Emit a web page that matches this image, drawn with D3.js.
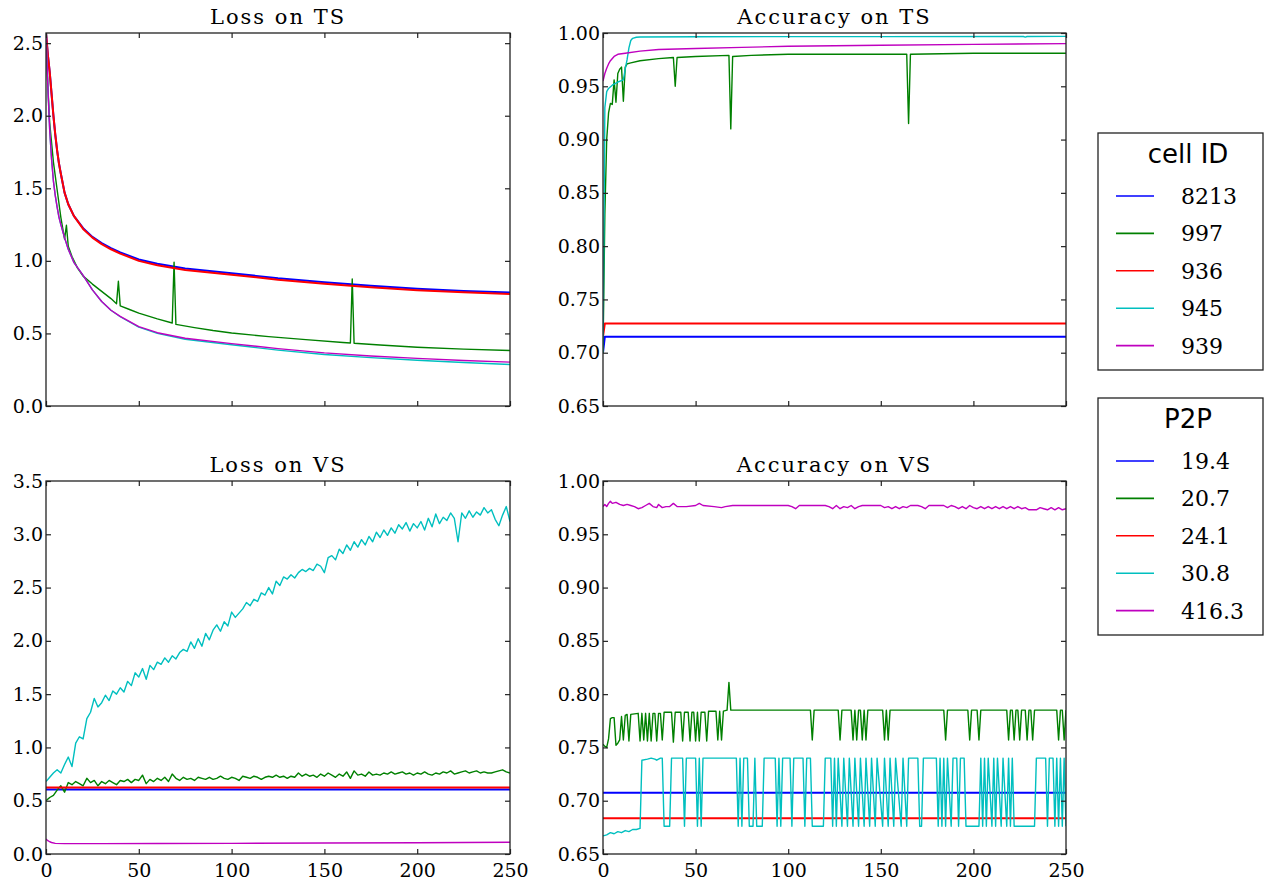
<!DOCTYPE html>
<html>
<head>
<meta charset="utf-8">
<script src="https://cdn.jsdelivr.net/npm/d3@7"></script>
<style>
  html, body { margin: 0; padding: 0; background: #fff; }
  svg { display: block; }
  .tick text { font-family: "DejaVu Serif", serif; font-size: 19px; fill: #000; }
  .title { font-family: "DejaVu Serif", serif; font-size: 21px; letter-spacing: 2px; }
</style>
</head>
<body>
<div id="chart"></div>
<script>
// ---- data, [epoch, value] pairs ----
var seriesNames = ["8213", "997", "936", "945", "939"];
var p2pNames = ["19.4", "20.7", "24.1", "30.8", "416.3"];
var seriesColors = ["#0000ff", "#008000", "#ff0000", "#00bfbf", "#bf00bf"];
var xTicks = [0, 50, 100, 150, 200, 250];

// Loss on TS
var lossTs8213 = [[0,2.57],[1,2.42],[2,2.3],[3,2.15],[4,2.0],[5,1.87],[6,1.76],[7,1.67],[8,1.6],[10,1.47],[12,1.39],[15,1.31],[20,1.225],[25,1.165],[30,1.122],[35,1.088],[40,1.058],[50,1.01],[60,0.98],[75,0.948],[100,0.915],[125,0.88],[150,0.853],[175,0.828],[200,0.808],[225,0.793],[250,0.782]];
var lossTs997 = [[0,2.57],[1,2.2],[2,1.95],[4,1.68],[6,1.49],[8,1.3],[10,1.15],[11,1.245],[12,1.1],[14,1.03],[17,0.95],[20,0.895],[25,0.84],[30,0.79],[35,0.74],[38,0.705],[39,0.86],[40,0.69],[45,0.665],[50,0.64],[60,0.6],[68,0.572],[69,0.99],[70,0.562],[80,0.54],[90,0.52],[100,0.503],[120,0.478],[140,0.457],[160,0.438],[164,0.434],[165,0.875],[166,0.432],[180,0.42],[200,0.405],[225,0.392],[250,0.382]];
var lossTs936 = [[0,2.57],[1,2.42],[2,2.3],[3,2.15],[4,2.0],[5,1.87],[6,1.76],[7,1.67],[8,1.6],[10,1.47],[12,1.39],[15,1.31],[20,1.22],[25,1.16],[30,1.115],[35,1.08],[40,1.05],[50,1.0],[60,0.97],[75,0.937],[100,0.905],[125,0.87],[150,0.843],[175,0.818],[200,0.798],[225,0.783],[250,0.772]];
var lossTs945 = [[0,2.57],[1,2.2],[2,1.9],[3,1.7],[4,1.55],[5,1.45],[6,1.37],[7,1.3],[8,1.25],[10,1.16],[12,1.08],[15,0.99],[20,0.9],[25,0.8],[30,0.72],[35,0.66],[40,0.615],[50,0.543],[60,0.5],[75,0.46],[100,0.422],[125,0.385],[150,0.355],[175,0.333],[200,0.315],[225,0.3],[250,0.286]];
var lossTs939 = [[0,2.57],[1,2.2],[2,1.9],[3,1.7],[4,1.55],[5,1.45],[6,1.37],[7,1.3],[8,1.25],[10,1.16],[12,1.08],[15,0.99],[20,0.9],[25,0.8],[30,0.72],[35,0.66],[40,0.617],[50,0.547],[60,0.505],[75,0.467],[100,0.43],[125,0.395],[150,0.366],[175,0.345],[200,0.328],[225,0.314],[250,0.302]];

// Accuracy on TS
var accTs8213 = [[0,0.70],[1,0.715],[250,0.715]];
var accTs997 = [[0,0.70],[1,0.83],[2,0.9],[3,0.925],[4,0.934],[5,0.933],[6,0.956],[7,0.935],[8,0.962],[9,0.966],[10,0.968],[11,0.936],[12,0.968],[13,0.971],[15,0.972],[20,0.974],[30,0.976],[38,0.977],[39,0.95],[40,0.977],[50,0.978],[68,0.979],[69,0.91],[70,0.978],[80,0.979],[100,0.98],[130,0.98],[164,0.98],[165,0.915],[166,0.98],[200,0.981],[250,0.981]];
var accTs936 = [[0,0.715],[1,0.7275],[250,0.7275]];
var accTs945 = [[0,0.70],[1,0.93],[2,0.945],[3,0.948],[5,0.951],[8,0.954],[11,0.956],[12,0.966],[13,0.975],[14,0.986],[15,0.993],[16,0.995],[18,0.996],[20,0.9963],[50,0.9965],[100,0.9966],[150,0.9966],[227,0.9967],[228,0.9962],[229,0.9967],[250,0.9968]];
var accTs939 = [[0,0.955],[1,0.962],[2,0.967],[3,0.971],[4,0.974],[6,0.978],[8,0.98],[12,0.981],[20,0.983],[30,0.9845],[50,0.9855],[75,0.9865],[100,0.9875],[150,0.9885],[200,0.9893],[250,0.99]];

// Loss on VS
var lossVs8213 = [[0,0.605],[250,0.605]];
var lossVs997 = [[0,0.5],[2,0.53],[4,0.55],[6,0.6],[8,0.64],[10,0.58],[12,0.67],[14,0.65],[16,0.68],[18,0.66],[20,0.64],[22,0.71],[24,0.67],[26,0.69],[28,0.64],[30,0.68],[32,0.66],[34,0.69],[36,0.67],[38,0.65],[40,0.69],[42,0.68],[44,0.7],[46,0.67],[48,0.7],[50,0.69],[52,0.74],[54,0.66],[56,0.7],[58,0.68],[60,0.71],[62,0.69],[64,0.72],[66,0.68],[68,0.75],[70,0.71],[72,0.69],[74,0.72],[76,0.7],[78,0.71],[80,0.69],[82,0.72],[84,0.71],[86,0.7],[88,0.72],[90,0.7],[92,0.71],[94,0.73],[96,0.71],[98,0.7],[100,0.72],[102,0.71],[104,0.69],[106,0.73],[108,0.72],[110,0.71],[112,0.73],[114,0.72],[116,0.7],[118,0.72],[120,0.73],[122,0.72],[124,0.74],[126,0.72],[128,0.73],[130,0.71],[132,0.73],[134,0.72],[136,0.76],[138,0.73],[140,0.75],[142,0.73],[144,0.74],[146,0.72],[148,0.75],[150,0.73],[152,0.76],[154,0.74],[156,0.72],[158,0.75],[160,0.73],[162,0.77],[164,0.71],[166,0.78],[168,0.74],[170,0.75],[172,0.73],[174,0.77],[176,0.74],[178,0.75],[180,0.74],[182,0.76],[184,0.75],[186,0.77],[188,0.75],[190,0.76],[192,0.77],[194,0.75],[196,0.76],[198,0.74],[200,0.76],[202,0.75],[204,0.77],[206,0.75],[208,0.74],[210,0.76],[212,0.75],[214,0.77],[216,0.76],[218,0.78],[220,0.75],[222,0.76],[224,0.77],[226,0.78],[228,0.76],[230,0.77],[232,0.78],[234,0.76],[236,0.77],[238,0.76],[240,0.76],[242,0.77],[244,0.78],[246,0.79],[248,0.77],[250,0.76]];
var lossVs936 = [[0,0.625],[250,0.625]];
var lossVs945 = [[0,0.68],[2,0.72],[4,0.76],[6,0.79],[8,0.76],[10,0.84],[12,0.91],[14,0.82],[16,1.04],[18,1.1],[20,1.08],[22,1.27],[24,1.33],[26,1.46],[28,1.38],[30,1.42],[32,1.49],[34,1.44],[36,1.53],[38,1.5],[40,1.56],[42,1.52],[44,1.62],[46,1.58],[48,1.7],[50,1.66],[52,1.74],[54,1.64],[56,1.77],[58,1.73],[60,1.8],[62,1.78],[64,1.84],[66,1.8],[68,1.86],[70,1.83],[72,1.89],[74,1.92],[76,1.9],[78,1.99],[80,1.93],[82,2.02],[84,1.95],[86,2.07],[88,2.01],[90,2.1],[92,2.15],[94,2.09],[96,2.18],[98,2.14],[100,2.27],[102,2.22],[104,2.26],[106,2.3],[108,2.36],[110,2.33],[112,2.39],[114,2.37],[116,2.45],[118,2.43],[120,2.5],[122,2.44],[124,2.56],[126,2.52],[128,2.6],[130,2.58],[132,2.62],[134,2.59],[136,2.64],[138,2.67],[140,2.65],[142,2.68],[144,2.66],[146,2.72],[148,2.7],[150,2.64],[152,2.78],[154,2.8],[156,2.76],[158,2.86],[160,2.82],[162,2.9],[164,2.85],[166,2.93],[168,2.88],[170,2.95],[172,2.9],[174,2.98],[176,2.93],[178,3.02],[180,2.97],[182,3.04],[184,2.99],[186,3.06],[188,3.01],[190,3.09],[192,3.05],[194,3.11],[196,3.03],[198,3.1],[200,3.06],[202,3.12],[204,3.04],[206,3.15],[208,3.07],[210,3.19],[212,3.1],[214,3.16],[216,3.13],[218,3.2],[220,3.15],[222,2.93],[224,3.2],[226,3.15],[228,3.22],[230,3.16],[232,3.21],[234,3.18],[236,3.25],[238,3.2],[240,3.23],[242,3.14],[244,3.08],[246,3.18],[248,3.26],[250,3.12]];
var lossVs939 = [[0,0.14],[1,0.125],[2,0.115],[3,0.108],[5,0.1],[10,0.097],[30,0.097],[60,0.098],[100,0.1],[150,0.103],[200,0.106],[250,0.11]];

// Accuracy on VS
var accVs8213 = [[0,0.7075],[250,0.7075]];
var accVs997 = [[0,0.753],[1,0.751],[2,0.75],[3,0.758],[4,0.777],[5,0.778],[6,0.778],[7,0.752],[8,0.754],[9,0.757],[10,0.779],[11,0.757],[12,0.78],[13,0.781],[14,0.756],[15,0.781],[19,0.782],[20,0.756],[21,0.782],[22,0.757],[23,0.782],[24,0.756],[25,0.782],[26,0.756],[27,0.782],[28,0.782],[29,0.756],[30,0.782],[31,0.782],[32,0.757],[33,0.783],[37,0.783],[38,0.755],[39,0.783],[42,0.783],[43,0.756],[44,0.783],[46,0.783],[47,0.756],[48,0.783],[49,0.783],[50,0.756],[51,0.783],[52,0.756],[53,0.783],[55,0.783],[56,0.756],[57,0.784],[61,0.784],[62,0.757],[63,0.784],[64,0.757],[65,0.784],[67,0.785],[68,0.811],[69,0.785],[112,0.785],[113,0.757],[114,0.785],[127,0.785],[128,0.757],[129,0.785],[134,0.785],[135,0.757],[136,0.785],[137,0.757],[138,0.785],[139,0.785],[140,0.757],[141,0.785],[142,0.757],[143,0.785],[151,0.785],[152,0.757],[153,0.785],[154,0.757],[155,0.785],[184,0.785],[185,0.757],[186,0.785],[197,0.785],[198,0.757],[199,0.785],[202,0.785],[203,0.757],[204,0.785],[218,0.785],[219,0.757],[220,0.785],[221,0.785],[222,0.757],[223,0.785],[224,0.785],[225,0.757],[226,0.785],[228,0.785],[229,0.757],[230,0.785],[231,0.785],[232,0.757],[233,0.785],[245,0.785],[246,0.757],[247,0.785],[248,0.785],[249,0.757],[250,0.785]];
var accVs936 = [[0,0.6835],[250,0.6835]];
var accVs945 = [[0,0.667],[2,0.668],[4,0.67],[6,0.669],[8,0.671],[10,0.67],[12,0.672],[14,0.671],[16,0.673],[18,0.673],[20,0.674],[21,0.738],[24,0.739],[26,0.74],[28,0.739],[29,0.738],[31,0.74],[32,0.74],[33,0.676],[36,0.676],[37,0.74],[43,0.74],[44,0.676],[45,0.74],[50,0.74],[51,0.676],[52,0.74],[53,0.676],[54,0.74],[72,0.74],[73,0.676],[74,0.74],[75,0.676],[76,0.74],[78,0.74],[79,0.676],[81,0.676],[82,0.74],[83,0.676],[86,0.676],[87,0.74],[93,0.74],[94,0.676],[95,0.74],[96,0.676],[97,0.74],[101,0.74],[102,0.676],[103,0.74],[108,0.74],[109,0.676],[110,0.74],[112,0.74],[113,0.676],[119,0.676],[120,0.74],[123,0.74],[124,0.676],[125,0.74],[126,0.676],[127,0.74],[129,0.676],[130,0.74],[132,0.676],[133,0.74],[135,0.676],[136,0.74],[138,0.676],[139,0.74],[141,0.676],[142,0.74],[144,0.676],[145,0.74],[147,0.676],[148,0.74],[151,0.676],[152,0.74],[154,0.676],[155,0.74],[157,0.676],[158,0.74],[161,0.676],[162,0.74],[164,0.676],[165,0.74],[170,0.74],[171,0.676],[172,0.676],[173,0.74],[180,0.74],[181,0.676],[182,0.74],[183,0.676],[184,0.74],[185,0.676],[186,0.74],[188,0.676],[189,0.74],[191,0.74],[192,0.676],[193,0.74],[195,0.74],[196,0.676],[203,0.676],[204,0.74],[205,0.676],[206,0.74],[207,0.676],[208,0.74],[210,0.676],[211,0.74],[212,0.676],[213,0.74],[215,0.676],[216,0.74],[218,0.676],[219,0.74],[220,0.676],[221,0.74],[222,0.676],[233,0.676],[234,0.74],[239,0.74],[240,0.676],[241,0.74],[243,0.74],[244,0.676],[245,0.74],[246,0.676],[247,0.74],[248,0.676],[249,0.74],[250,0.676]];
var accVs939 = [[0,0.976],[1,0.978],[2,0.976],[3,0.979],[4,0.981],[5,0.979],[7,0.98],[9,0.978],[11,0.977],[13,0.978],[15,0.977],[17,0.976],[19,0.974],[21,0.975],[23,0.977],[25,0.979],[27,0.976],[29,0.975],[30,0.978],[32,0.975],[34,0.976],[36,0.976],[38,0.979],[40,0.976],[45,0.976],[50,0.977],[52,0.979],[54,0.977],[60,0.976],[64,0.975],[66,0.976],[70,0.977],[80,0.977],[90,0.977],[100,0.977],[102,0.976],[104,0.974],[106,0.977],[115,0.977],[120,0.977],[122,0.976],[124,0.974],[126,0.977],[128,0.974],[130,0.976],[132,0.975],[134,0.977],[136,0.974],[138,0.976],[140,0.977],[150,0.977],[152,0.975],[154,0.976],[156,0.974],[158,0.976],[160,0.974],[162,0.976],[164,0.975],[166,0.977],[170,0.977],[172,0.976],[174,0.974],[176,0.977],[180,0.977],[184,0.977],[186,0.975],[188,0.977],[190,0.976],[192,0.974],[194,0.976],[196,0.974],[198,0.977],[200,0.975],[202,0.974],[204,0.976],[206,0.974],[208,0.976],[210,0.974],[212,0.976],[214,0.974],[216,0.976],[218,0.974],[220,0.976],[222,0.974],[224,0.976],[226,0.974],[228,0.975],[230,0.973],[234,0.973],[236,0.975],[238,0.974],[240,0.973],[242,0.975],[244,0.973],[246,0.975],[248,0.973],[250,0.974]];

// ---- layout ----
var W = 1264, H = 884;
var panels = [
  { title: "Loss on TS", x0: 46, x1: 510, y0: 33, y1: 406, yDomain: [0, 2.57], yTicks: [0, 0.5, 1, 1.5, 2, 2.5], fmt: ".1f", xLabels: false,
    lines: [lossTs8213, lossTs997, lossTs936, lossTs945, lossTs939] },
  { title: "Accuracy on TS", x0: 603, x1: 1066, y0: 33, y1: 406, yDomain: [0.65, 1], yTicks: [0.65, 0.7, 0.75, 0.8, 0.85, 0.9, 0.95, 1], fmt: ".2f", xLabels: false,
    lines: [accTs8213, accTs997, accTs936, accTs945, accTs939] },
  { title: "Loss on VS", x0: 46, x1: 510, y0: 481, y1: 854, yDomain: [0, 3.5], yTicks: [0, 0.5, 1, 1.5, 2, 2.5, 3, 3.5], fmt: ".1f", xLabels: true,
    lines: [lossVs8213, lossVs997, lossVs936, lossVs945, lossVs939] },
  { title: "Accuracy on VS", x0: 603, x1: 1066, y0: 481, y1: 854, yDomain: [0.65, 1], yTicks: [0.65, 0.7, 0.75, 0.8, 0.85, 0.9, 0.95, 1], fmt: ".2f", xLabels: true,
    lines: [accVs8213, accVs997, accVs936, accVs945, accVs939] }
];
// draw order as in the original: blue, green, red, cyan, magenta
var lineWidths = [2, 1.4, 2, 1.4, 1.4];

var svg = d3.select("#chart").append("svg").attr("width", W).attr("height", H);

panels.forEach(function (p, pi) {
  var x = d3.scaleLinear().domain([0, 250]).range([p.x0, p.x1]);
  var y = d3.scaleLinear().domain(p.yDomain).range([p.y1, p.y0]);
  var g = svg.append("g");

  var clipId = "clip" + pi;
  svg.append("clipPath").attr("id", clipId)
    .append("rect").attr("x", p.x0).attr("y", p.y0).attr("width", p.x1 - p.x0).attr("height", p.y1 - p.y0);

  var line = d3.line()
    .x(function (d) { return x(d[0]); })
    .y(function (d) { return y(d[1]); });

  var lg = g.append("g").attr("clip-path", "url(#" + clipId + ")");
  p.lines.forEach(function (data, i) {
    lg.append("path")
      .datum(data)
      .attr("d", line)
      .attr("fill", "none")
      .attr("stroke", seriesColors[i])
      .attr("stroke-width", lineWidths[i])
      .attr("stroke-linejoin", "round");
  });

  // axes: inward ticks on all four sides
  var tickLen = 5;
  var yLeft = d3.axisLeft(y).tickValues(p.yTicks).tickFormat(d3.format(p.fmt)).tickSizeInner(-tickLen).tickSizeOuter(0).tickPadding(3);
  var yRight = d3.axisRight(y).tickValues(p.yTicks).tickFormat("").tickSizeInner(-tickLen).tickSizeOuter(0);
  var xBottom = d3.axisBottom(x).tickValues(xTicks).tickFormat(p.xLabels ? d3.format("d") : "").tickSizeInner(-tickLen).tickSizeOuter(0).tickPadding(10);
  var xTop = d3.axisTop(x).tickValues(xTicks).tickFormat("").tickSizeInner(-tickLen).tickSizeOuter(0);

  function styleAxis(sel) {
    sel.select(".domain").remove();
    sel.selectAll(".tick line").attr("stroke", "#222").attr("stroke-width", 1.2);
  }
  g.append("g").attr("transform", "translate(" + p.x0 + ",0)").call(yLeft).call(styleAxis)
    .selectAll("text").attr("font-size", null).attr("font-family", null);
  g.append("g").attr("transform", "translate(" + p.x1 + ",0)").call(yRight).call(styleAxis);
  g.append("g").attr("transform", "translate(0," + p.y1 + ")").call(xBottom).call(styleAxis)
    .selectAll("text").attr("font-size", null).attr("font-family", null);
  g.append("g").attr("transform", "translate(0," + p.y0 + ")").call(xTop).call(styleAxis);

  g.append("rect")
    .attr("x", p.x0).attr("y", p.y0)
    .attr("width", p.x1 - p.x0).attr("height", p.y1 - p.y0)
    .attr("fill", "none").attr("stroke", "#222").attr("stroke-width", 1.3);

  g.append("text")
    .attr("class", "title")
    .attr("x", (p.x0 + p.x1) / 2)
    .attr("y", p.y0 - 9)
    .attr("text-anchor", "middle")
    .text(p.title);
});

// ---- legends ----
function drawLegend(top, title, labels) {
  var lg = svg.append("g").attr("transform", "translate(1098," + top + ")");
  lg.append("rect")
    .attr("x", 0).attr("y", 0).attr("width", 165).attr("height", 237)
    .attr("fill", "#fff").attr("stroke", "#222").attr("stroke-width", 1.3);
  lg.append("text")
    .attr("x", 90).attr("y", 30)
    .attr("text-anchor", "middle")
    .attr("font-family", "DejaVu Sans, sans-serif")
    .attr("font-size", 26)
    .text(title);
  labels.forEach(function (lab, i) {
    var cy = 63 + i * 37.4;
    lg.append("line")
      .attr("x1", 18).attr("x2", 56).attr("y1", cy).attr("y2", cy)
      .attr("stroke", seriesColors[i]).attr("stroke-width", 1.6);
    lg.append("text")
      .attr("x", 83).attr("y", cy + 8)
      .attr("font-family", "DejaVu Serif, serif")
      .attr("font-size", 22)
      .text(lab);
  });
}
drawLegend(133, "cell ID", seriesNames);
drawLegend(398, "P2P", p2pNames);
</script>
</body>
</html>
